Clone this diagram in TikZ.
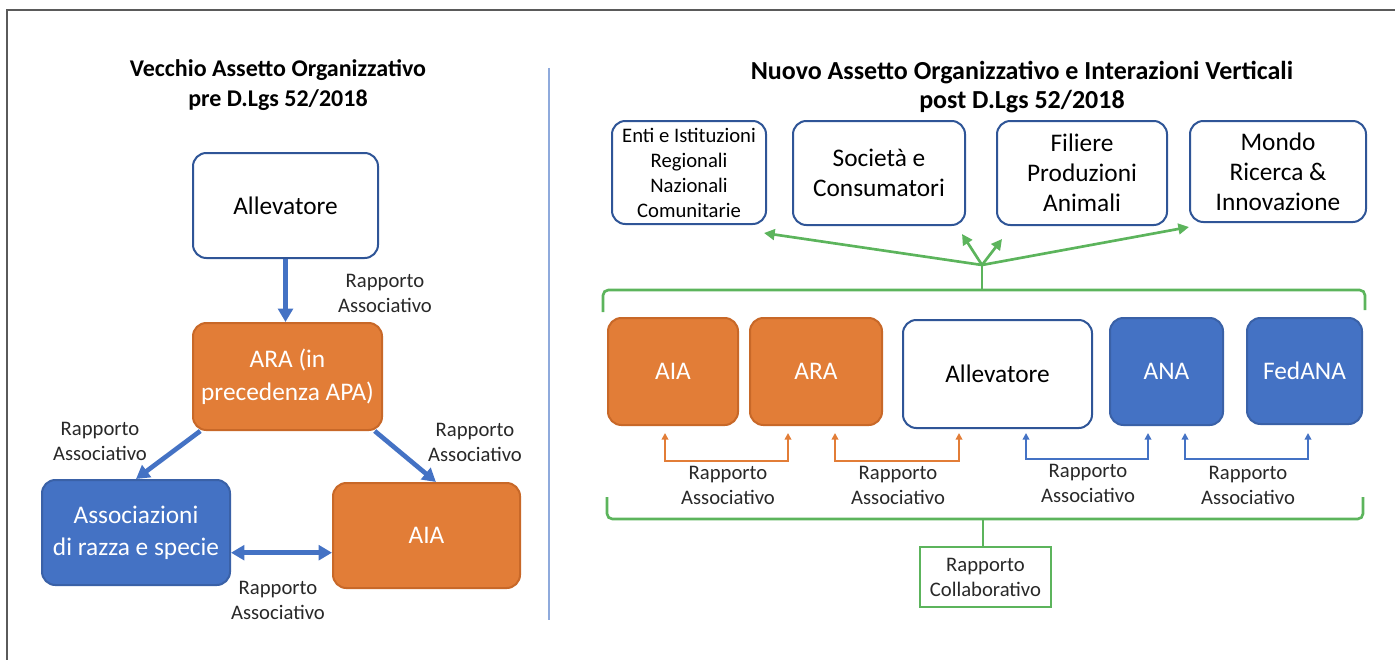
\documentclass[tikz,border=0pt]{standalone}
\usepackage{fontspec}
\setmainfont{Carlito}
\usepackage{tikz}
\usetikzlibrary{positioning,calc,arrows.meta}

\definecolor{arancio}{RGB}{226,125,55}
\definecolor{arancioBordo}{RGB}{200,104,40}
\definecolor{blu}{RGB}{68,114,196}
\definecolor{bluBordo}{RGB}{47,85,151}
\definecolor{verde}{RGB}{92,180,92}
\definecolor{separa}{RGB}{143,170,220}
\definecolor{cornice}{RGB}{90,90,90}
\definecolor{testo}{RGB}{40,40,40}

\tikzset{
  boxW/.style={draw=bluBordo, line width=1.5pt, fill=white, rounded corners=10pt, align=center, text=black, font=\fontsize{19}{22.5}\selectfont, inner sep=0pt},
  boxO/.style={boxW, draw=arancioBordo, fill=arancio, text=white},
  boxB/.style={boxW, draw=blu!85!black, fill=blu, text=white},
  titolo/.style={align=center, font=\bfseries\fontsize{18}{22}\selectfont, text=black},
  etichetta/.style={align=center, font=\fontsize{15.5}{18.75}\selectfont, text=testo, inner sep=0pt},
  arrBlu/.style={draw=blu, line width=3.5pt, -{Triangle[length=10pt,width=11pt]}},
  arrVerde/.style={draw=verde, line width=2pt, -{Triangle[length=8pt,width=8pt]}},
  conn/.style={line width=1.5pt, {Triangle[length=5pt,width=5pt]}-{Triangle[length=5pt,width=5pt]}},
}

\begin{document}
\begin{tikzpicture}[x=0.75pt,y=0.75pt,yscale=-1,xscale=1]
\useasboundingbox (0,0) rectangle (1395,660);

%Frame
\draw[cornice, line width=1.5pt] (7,660) -- (7,10) -- (1395,10);
%Separator
\draw[separa, line width=1.2pt] (549,68) -- (549,620);

%Left: old layout
\node[titolo] (titVecchio) at (278,85) {Vecchio Assetto Organizzativo\\pre D.Lgs 52/2018};
\node[boxW, minimum width=138.75pt, minimum height=78.75pt] (allevL) at (285.5,205.5) {Allevatore};
\node[boxO, minimum width=141.75pt, minimum height=80.25pt, font=\fontsize{19}{24.75}\selectfont] (araL) at (287.5,376.5) {ARA (in\\precedenza APA)};
\node[boxB, minimum width=141pt, minimum height=78.75pt, font=\fontsize{19}{24}\selectfont] (assoc) at (136,532.5) {Associazioni\\di razza e specie};
\node[boxO, minimum width=140.25pt, minimum height=78.75pt] (aiaL) at (426.5,535.5) {AIA};

\node[etichetta] (relA) at (385,293) {Rapporto\\Associativo};
\node[etichetta] (relB) at (100,441) {Rapporto\\Associativo};
\node[etichetta] (relC) at (475,442) {Rapporto\\Associativo};
\node[etichetta] (relD) at (278,600) {Rapporto\\Associativo};

\draw[arrBlu] (allevL.south) -- (allevL.south |- araL.north);
\draw[arrBlu] (araL.212) -- (assoc.north);
\draw[arrBlu] (araL.-32) -- (aiaL.80);
\draw[arrBlu, {Triangle[length=10pt,width=11pt]}-{Triangle[length=10pt,width=11pt]}] (assoc.-12) -- (assoc.-12 -| aiaL.west);

%Right: new layout
\node[titolo, font=\bfseries\fontsize{19.5}{22}\selectfont] (titNuovo) at (1022,87) {Nuovo Assetto Organizzativo e Interazioni Verticali\\post D.Lgs 52/2018};

\node[boxW, minimum width=115.5pt, minimum height=77.25pt, font=\fontsize{15.5}{18.75}\selectfont] (enti) at (689,172.5) {Enti e Istituzioni\\Regionali\\Nazionali\\Comunitarie};
\node[boxW, minimum width=129pt, minimum height=78pt] (soc) at (879,173) {Società e\\Consumatori};
\node[boxW, minimum width=127.5pt, minimum height=78pt] (fil) at (1082,173) {Filiere\\Produzioni\\Animali};
\node[boxW, minimum width=132pt, minimum height=75.75pt] (mon) at (1278,171.5) {Mondo\\Ricerca \&\\Innovazione};

\coordinate (hub) at (982,265);
\coordinate (brT) at (982,290);
\draw[arrVerde] (hub) -- ($(enti.south east)+(-3,8)$);
\draw[arrVerde] (hub) -- ($(soc.south east)+(-4,8)$);
\draw[arrVerde] (hub) -- ($(fil.south west)+(6,13)$);
\draw[arrVerde] (hub) -- ($(mon.south west)+(0,4)$);
\draw[verde, line width=2pt] (hub) -- (brT);
\draw[verde, line width=2pt, rounded corners=4pt] (603,312) -- (603,290) -- (1365,290) -- (1365,310);

\node[boxO, minimum width=97.5pt, minimum height=80.25pt] (aiaR) at (673,371.5) {AIA};
\node[boxO, minimum width=99pt, minimum height=80.25pt] (araR) at (816,371.5) {ARA};
\node[boxW, minimum width=141.75pt, minimum height=81pt] (allevR) at (997.5,374) {Allevatore};
\node[boxB, minimum width=84.75pt, minimum height=80.25pt] (ana) at (1166.5,371.5) {ANA};
\node[boxB, minimum width=86.25pt, minimum height=79.5pt] (fedana) at (1304.5,371) {FedANA};

\draw[conn, draw=arancio] ($(aiaR.south)+(-8,7)$) -- ++(0,28) -| ($(araR.south)+(-28,7)$);
\draw[conn, draw=arancio] ($(araR.south)+(19,7)$) -- ++(0,28) -| ($(allevR.south)+(-38.5,4)$);
\draw[conn, draw=blu] ($(allevR.south)+(28.5,4)$) -- ++(0,26) -| ($(ana.south)+(-18.5,7)$);
\draw[conn, draw=blu] ($(ana.south)+(18.5,7)$) -- ++(0,26) -| ($(fedana.south)+(3.5,8)$);

\node[etichetta] (rel1) at (728,485) {Rapporto\\Associativo};
\node[etichetta] (rel2) at (898,485) {Rapporto\\Associativo};
\node[etichetta] (rel3) at (1088,483) {Rapporto\\Associativo};
\node[etichetta] (rel4) at (1248,485) {Rapporto\\Associativo};

\coordinate (brB) at (983,519);
\draw[verde, line width=2pt, rounded corners=4pt] (607,497) -- (607,519) -- (1363,519) -- (1363,497);
\node[etichetta, draw=verde, line width=1pt, minimum width=98.25pt, minimum height=45pt] (collab) at (985.5,577) {Rapporto\\Collaborativo};
\draw[verde, line width=2pt] (brB) -- (brB |- collab.north);

\end{tikzpicture}
\end{document}
